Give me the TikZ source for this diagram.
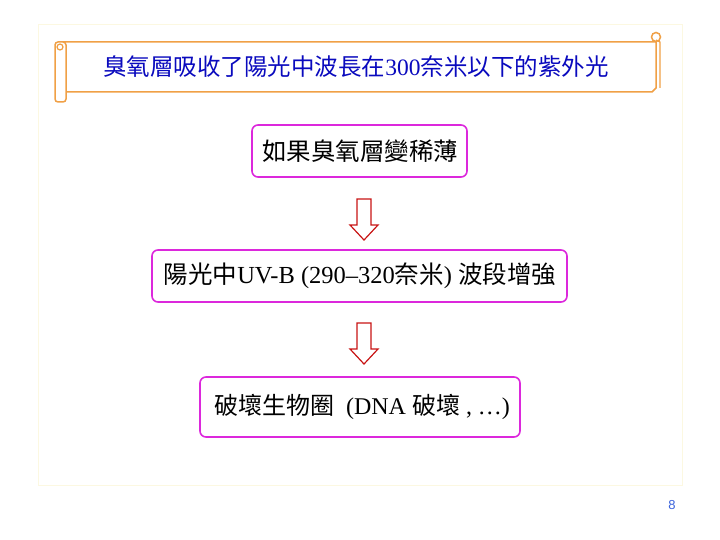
\documentclass[tikz,border=0pt]{standalone}
\usepackage{fontspec}
\setmainfont{Liberation Serif}
\newfontfamily\cjk{Noto Sans CJK TC}
\newfontfamily\sfnum{Liberation Sans}
\definecolor{mag}{RGB}{220,40,220}
\definecolor{org}{RGB}{240,160,70}
\definecolor{arr}{RGB}{200,20,20}
\definecolor{ttl}{RGB}{10,10,190}
\begin{document}
\begin{tikzpicture}[x=1pt,y=-1pt,
  box/.style={draw=mag,line width=1.6pt,rounded corners=6pt,fill=white},
  dnarrow/.style={draw=arr,line width=1.2pt,fill=white}]
\useasboundingbox (0,0) rectangle (720,540);
\fill[white] (0,0) rectangle (720,540);
\draw[draw={rgb,255:red,252;green,248;blue,225},line width=1pt] (38,25) rectangle (682,485);
% scroll
\draw[org,line width=1.5pt,fill=white] (62,42) -- (656,42) -- (656,88) -- (652,92) -- (64,92);
\draw[org,line width=1.5pt,fill=white,rounded corners=3pt] (55,42) rectangle (66,102);
\draw[org,line width=1.2pt] (60,47) circle (3);
\draw[org,line width=1.5pt,fill=white] (656,37) circle (4.5);
\draw[org,line width=1.2pt] (656,40) -- (660,42) -- (660,88);
\node[text=ttl,font=\fontsize{23.5}{27}\selectfont] (title) at (356,67) {\cjk 臭氧層吸收了陽光中波長在\rmfamily 300\cjk 奈米以下的紫外光};
% boxes
\draw[box] (252,125) rectangle (467,177);
\node[font=\fontsize{24.5}{28}\selectfont] (b1) at (360,151) {\cjk 如果臭氧層變稀薄};
\draw[box] (152,250) rectangle (567,302);
\node[font=\fontsize{24.5}{28}\selectfont] (b2) at (360,276) {\cjk 陽光中\rmfamily UV-B (290–320\cjk 奈米\rmfamily ) \cjk 波段增強};
\draw[box] (200,377) rectangle (520,437);
\node[font=\fontsize{24}{28}\selectfont] (b3) at (362,407) {\cjk 破壞生物圈\rmfamily\ \ (DNA \cjk 破壞\rmfamily\ , …)};
% arrows
\draw[dnarrow] (357,199) -- (371,199) -- (371,225) -- (378,225) -- (364,240) -- (350,225) -- (357,225) -- cycle;
\draw[dnarrow] (357,323) -- (371,323) -- (371,349) -- (378,349) -- (364,364) -- (350,349) -- (357,349) -- cycle;
\node[text={rgb,255:red,60;green,100;blue,220},font=\sfnum\fontsize{13}{15}\selectfont] (pg) at (672,505) {8};
\end{tikzpicture}
\end{document}
